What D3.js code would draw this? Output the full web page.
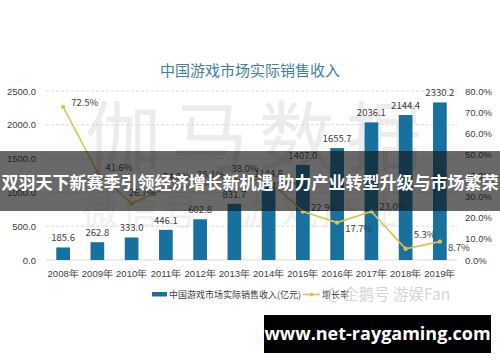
<!DOCTYPE html>
<html>
<head>
<meta charset="utf-8">
<script src="https://cdn.jsdelivr.net/npm/d3@7"></script>
<style>
  body { margin: 0; background: #fff; }
  svg { display: block; font-family: "Noto Sans CJK SC", "Noto Sans", sans-serif; }
  .axis text { fill: #404040; font-size: 9.5px; }
  .axis path { display: none; }
</style>
</head>
<body>
<svg id="chart" width="500" height="362"></svg>
<script>
// data
const years = ['2008年','2009年','2010年','2011年','2012年','2013年','2014年','2015年','2016年','2017年','2018年','2019年'];
const revenue = [185.6, 262.8, 333.0, 446.1, 602.8, 831.7, 1144.8, 1407.0, 1655.7, 2036.1, 2144.4, 2330.2];
const growth = [72.5, 41.6, 26.7, 34.0, 35.1, 38.0, 37.7, 22.9, 17.7, 23.0, 5.3, 8.7];
const leftTicks = [0, 500, 1000, 1500, 2000, 2500];
const rightTicks = [0, 10, 20, 30, 40, 50, 60, 70, 80];

const title = '中国游戏市场实际销售收入';
const seriesNames = ['中国游戏市场实际销售收入(亿元)', '增长率'];
const banner = '双羽天下新赛季引领经济增长新机遇 助力产业转型升级与市场繁荣';
const site = 'www.net-raygaming.com';

// where each growth label sits relative to its point:
// r = right, a = above, ar = above-right, b = right-below
const rateLabelPlace = ['r','r','a','a','a','a','b','r','b','r','ar','b'];

const barColor = '#17719e', lineColor = '#e5c04c', textColor = '#404040';

const svg = d3.select('#chart');
const plot = {left: 46, right: 457, top: 91, bottom: 260};

const x = d3.scaleBand().domain(years).range([plot.left, plot.right]);
const yL = d3.scaleLinear().domain([0, 2500]).range([plot.bottom, plot.top]);
const yR = d3.scaleLinear().domain([0, 80]).range([plot.bottom, plot.top]);
const bw = x.bandwidth() * 0.4;
const cx = d => x(d) + x.bandwidth() / 2;

// faint watermarks behind the chart
const wm = svg.append('g').attr('fill', '#ececec');
['伽','马','数','据'].forEach((c, i) => {
    wm.append('text').attr('x', 123 + i * 87).attr('y', 165)
        .attr('text-anchor', 'middle').style('font-size', '76px').text(c);
});
['微','信','号','','游','戏','产','业'].forEach((c, i) => {
    wm.append('text').attr('x', 100 + i * 40).attr('y', 225)
        .attr('text-anchor', 'middle').attr('fill', '#f0f0f0').style('font-size', '36px').text(c);
});

// title
svg.append('text')
    .attr('x', 250).attr('y', 76)
    .attr('text-anchor', 'middle')
    .attr('fill', '#3f7f98')
    .style('font-size', '15px')
    .text(title);

// grid lines
svg.append('g').selectAll('line')
    .data(leftTicks.slice(1))
    .enter().append('line')
    .attr('x1', plot.left).attr('x2', plot.right)
    .attr('y1', d => yL(d)).attr('y2', d => yL(d))
    .attr('stroke', '#d9d9d9').attr('stroke-dasharray', '3,2');
svg.append('line')
    .attr('x1', plot.left).attr('x2', plot.right)
    .attr('y1', plot.bottom).attr('y2', plot.bottom)
    .attr('stroke', '#d9d9d9');

// axes
svg.append('g').attr('class', 'axis')
    .attr('transform', 'translate(39,0)')
    .call(d3.axisLeft(yL).tickValues(leftTicks).tickSize(0).tickPadding(3).tickFormat(d3.format('.1f')));
svg.append('g').attr('class', 'axis')
    .attr('transform', 'translate(462,0)')
    .call(d3.axisRight(yR).tickValues(rightTicks).tickSize(0).tickPadding(3).tickFormat(d => d.toFixed(1) + '%'));
svg.append('g').attr('class', 'axis')
    .attr('transform', 'translate(0,' + plot.bottom + ')')
    .call(d3.axisBottom(x).tickSize(0).tickPadding(10));

// bars
svg.append('g').selectAll('rect')
    .data(revenue)
    .enter().append('rect')
    .attr('x', (d, i) => cx(years[i]) - bw / 2)
    .attr('width', bw)
    .attr('y', d => yL(d))
    .attr('height', d => plot.bottom - yL(d))
    .attr('fill', barColor);

svg.append('g').selectAll('text')
    .data(revenue)
    .enter().append('text')
    .attr('x', (d, i) => cx(years[i]))
    .attr('y', d => yL(d) - 6)
    .attr('text-anchor', 'middle')
    .attr('fill', textColor)
    .style('font-size', '9.5px')
    .text(d => d.toFixed(1));

// growth line
const line = d3.line()
    .x((d, i) => cx(years[i]))
    .y(d => yR(d));
svg.append('path')
    .datum(growth)
    .attr('d', line)
    .attr('fill', 'none')
    .attr('stroke', lineColor)
    .attr('stroke-width', 1.6);
svg.append('g').selectAll('circle')
    .data(growth)
    .enter().append('circle')
    .attr('cx', (d, i) => cx(years[i]))
    .attr('cy', d => yR(d))
    .attr('r', 2.2)
    .attr('fill', lineColor);

const labelDx = {r: 8, a: -3, ar: 8, b: 8};
const labelDy = {r: -1, a: -8, ar: -11, b: 9};
svg.append('g').selectAll('text')
    .data(growth)
    .enter().append('text')
    .attr('x', (d, i) => cx(years[i]) + labelDx[rateLabelPlace[i]])
    .attr('y', (d, i) => yR(d) + labelDy[rateLabelPlace[i]])
    .attr('fill', textColor)
    .style('font-size', '9.5px')
    .text(d => d.toFixed(1) + '%');

// legend
const lg = svg.append('g');
lg.append('rect').attr('x', 152).attr('y', 292).attr('width', 15).attr('height', 4.5).attr('fill', barColor);
lg.append('text').attr('x', 169).attr('y', 297.5).attr('fill', textColor).style('font-size', '9px').text(seriesNames[0]);
lg.append('line').attr('x1', 303).attr('x2', 320).attr('y1', 294.5).attr('y2', 294.5)
    .attr('stroke', lineColor).attr('stroke-width', 1.6);
lg.append('circle').attr('cx', 311.5).attr('cy', 294.5).attr('r', 2).attr('fill', lineColor);
lg.append('text').attr('x', 322).attr('y', 297.5).attr('fill', textColor).style('font-size', '9px').text(seriesNames[1]);

// platform watermark
svg.append('path')
    .attr('d', 'M334,288 C326,290 326,302 336,302')
    .attr('fill', 'none').attr('stroke', '#d4d4d4').attr('stroke-width', 1.4);
svg.append('text')
    .attr('x', 343).attr('y', 300)
    .attr('fill', '#d4d4d4')
    .style('font-size', '15.5px')
    .text('企鹅号 游娱Fan');

// banner across the chart
svg.append('rect')
    .attr('x', 0).attr('y', 151).attr('width', 500).attr('height', 60)
    .attr('fill', 'rgba(20,20,20,0.64)');
svg.append('text')
    .attr('x', 250).attr('y', 189)
    .attr('text-anchor', 'middle')
    .attr('fill', '#fff')
    .style('font-size', '17px')
    .style('font-weight', 'bold')
    .text(banner);

// site box
svg.append('rect')
    .attr('x', 264).attr('y', 315).attr('width', 227).attr('height', 38)
    .attr('fill', '#000');
svg.append('text')
    .attr('x', 377.5).attr('y', 340)
    .attr('text-anchor', 'middle')
    .attr('fill', '#fff')
    .style('font-family', '"Open Sans", sans-serif')
    .style('font-size', '18px')
    .style('font-weight', 'bold')
    .text(site);
</script>
</body>
</html>
